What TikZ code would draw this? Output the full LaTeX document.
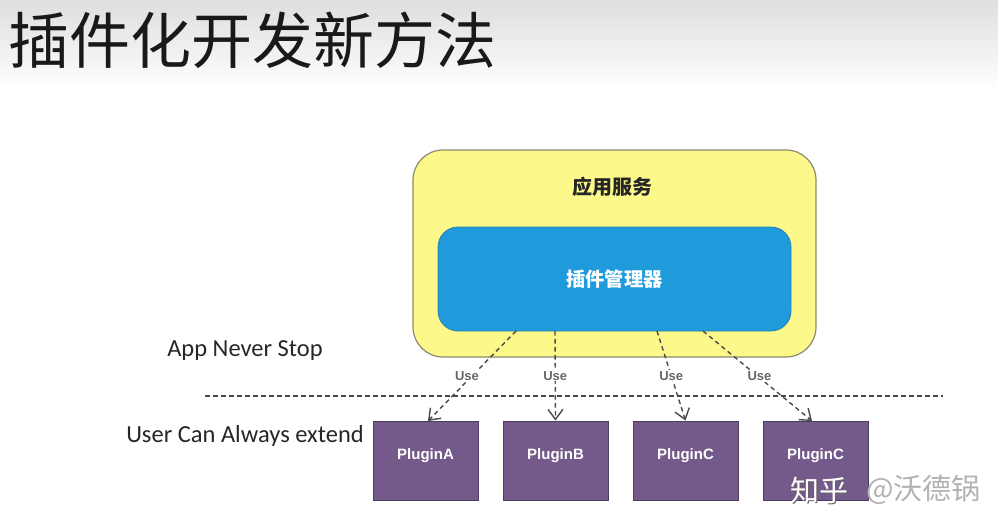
\documentclass[tikz,border=0pt]{standalone}
\usepackage{fontspec}
\setmainfont{Carlito}
\newfontfamily\cjk{Noto Sans CJK SC}
\newfontfamily\hel{Liberation Sans}
\usetikzlibrary{arrows.meta}
\definecolor{ybox}{HTML}{FCF98A}
\definecolor{yedge}{HTML}{8C8A6E}
\definecolor{bbox}{HTML}{1F9BDB}
\definecolor{bedge}{HTML}{2A7FB0}
\definecolor{pbox}{HTML}{745A8A}
\definecolor{pedge}{HTML}{4E3C62}
\definecolor{lnc}{HTML}{4A4A4A}
\tikzset{
  plugin/.style={draw=pedge, line width=1pt, fill=pbox, minimum width=105pt, minimum height=79pt, inner sep=0pt, text=white, font=\hel\bfseries\fontsize{15}{15}\selectfont},
  use/.style={draw=lnc, line width=1.4pt, dash pattern=on 4.5pt off 3.5pt, -{Straight Barb[length=10pt,width=15pt]}},
  uselbl/.style={fill=white, inner sep=1pt, text=black!60, font=\hel\bfseries\fontsize{13}{13}\selectfont},
  side/.style={text=black!85, font=\fontsize{24.5}{24.5}\selectfont}
}
\begin{document}
\begin{tikzpicture}[x=1pt,y=-1pt]
\useasboundingbox (0,0) rectangle (998,524);
\shade[top color=black!13, bottom color=white] (0,0) rectangle (998,90);
\node[anchor=west, inner sep=0pt, font=\cjk\fontsize{61}{61}\selectfont, text=black!90] (title) at (8,40) {插件化开发新方法};

\node[draw=yedge, line width=1.2pt, fill=ybox, rounded corners=30pt, minimum width=403pt, minimum height=207pt] (app) at (614.5,253.5) {};
\node[font=\cjk\bfseries\fontsize{20}{20}\selectfont, text=black!85] (applbl) at (612,187) {应用服务};
\node[draw=bedge, line width=0.8pt, fill=bbox, rounded corners=20pt, minimum width=353pt, minimum height=104pt, text=white, font=\cjk\bfseries\fontsize{19.3}{19.3}\selectfont] (mgr) at (614.5,279) {插件管理器};

\node[side] (never) at (245,351) {App Never Stop};
\node[side] (extend) at (245,436) {User Can Always extend};

\coordinate (dl) at (205,396);
\coordinate (dr) at (943,396);
\draw[lnc, line width=1.3pt, dash pattern=on 4.5pt off 3.5pt] (dl) -- (dr);

\node[plugin] (pA) at (425.5,460.5) {\raisebox{12pt}{PluginA}};
\node[plugin] (pB) at (555.5,460.5) {\raisebox{12pt}{PluginB}};
\node[plugin] (pC) at (685.5,460.5) {\raisebox{12pt}{PluginC}};
\node[plugin] (pD) at (815.5,460.5) {\raisebox{12pt}{PluginC}};

\coordinate (s1) at (516,331);
\coordinate (s2) at (555,331);
\coordinate (s3) at (657,331);
\coordinate (s4) at (703,331);
\coordinate (e1) at (428,421);
\coordinate (e4) at (812,421);
\draw[use] (s1) -- node[uselbl, pos=0.5, xshift=-5pt] {Use} (e1);
\draw[use] (s2) -- node[uselbl, pos=0.5] {Use} (pB.north);
\draw[use] (s3) -- node[uselbl, pos=0.5] {Use} (pC.north);
\draw[use] (s4) -- node[uselbl, pos=0.5, xshift=2pt] {Use} (e4);

\node[anchor=west, inner sep=0pt, text=black!60, font=\cjk\fontsize{29}{29}\selectfont] (zhs) at (791.5,491.5) {知乎};
\node[anchor=west, inner sep=0pt, text=white, font=\cjk\fontsize{29}{29}\selectfont] (zh) at (790,490) {知乎};
\node[anchor=west, inner sep=0pt, text=black!30, font=\cjk\fontsize{29}{29}\selectfont] (at) at (866,490) {@沃德锅};
\end{tikzpicture}
\end{document}
